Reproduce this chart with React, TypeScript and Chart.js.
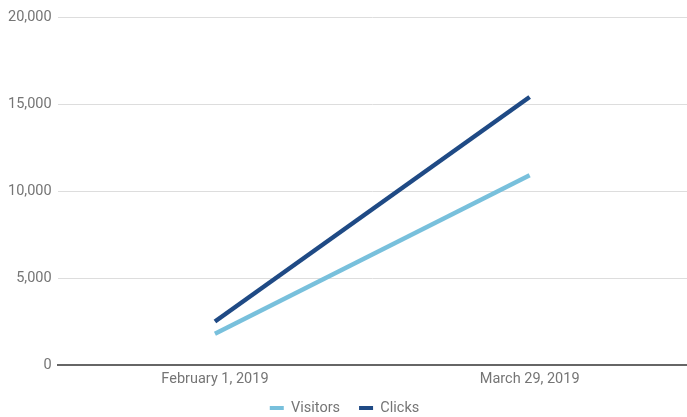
import React, { useEffect, useRef } from "react";
import { Chart, registerables } from "chart.js";

Chart.register(...registerables);

const categories = ["February 1, 2019", "March 29, 2019"];
const visitors = [1800, 10900];
const clicks = [2500, 15400];
const yTicks = [0, 5000, 10000, 15000, 20000];

const VISITORS_COLOR = "#78c0dc";
const CLICKS_COLOR = "#1f4a85";
const TEXT_COLOR = "#757575";
const FONT = { family: "Roboto", size: 14.5 };

export default function App() {
  const ref = useRef<HTMLCanvasElement | null>(null);

  useEffect(() => {
    document.body.style.margin = "0";
    if (!ref.current) return;
    const chart = new Chart(ref.current, {
      type: "line",
      data: {
        labels: categories,
        datasets: [
          {
            label: "Visitors",
            data: visitors,
            borderColor: VISITORS_COLOR,
            backgroundColor: VISITORS_COLOR,
            borderWidth: 4.5,
            pointRadius: 0,
            tension: 0,
          },
          {
            label: "Clicks",
            data: clicks,
            borderColor: CLICKS_COLOR,
            backgroundColor: CLICKS_COLOR,
            borderWidth: 4.5,
            pointRadius: 0,
            tension: 0,
          },
        ],
      },
      options: {
        animation: false,
        responsive: false,
        layout: { padding: { top: 17, right: 0, left: 2, bottom: -8.25 } },
        plugins: {
          tooltip: { enabled: false },
          legend: {
            position: "bottom",
            labels: {
              color: TEXT_COLOR,
              font: FONT,
              boxWidth: 14,
              boxHeight: 4,
              padding: 19,
              generateLabels: (c: any) =>
                c.data.datasets.map((ds: any, i: number) => ({
                  text: ds.label,
                  fillStyle: ds.borderColor,
                  strokeStyle: ds.borderColor,
                  lineWidth: 0,
                  hidden: false,
                  datasetIndex: i,
                  fontColor: TEXT_COLOR,
                })),
            },
          },
        },
        scales: {
          x: {
            offset: true,
            grid: { display: false, drawTicks: false },
            border: { display: true, color: "#666666", width: 2 },
            ticks: {
              color: TEXT_COLOR,
              font: FONT,
              mirror: true,
              padding: -23.4,
              maxRotation: 0,
            },
            afterFit: (s: any) => {
              s.height = 16.75;
            },
          },
          y: {
            min: 0,
            max: 20000,
            afterBuildTicks: (s: any) => {
              s.ticks = yTicks.map((v) => ({ value: v }));
            },
            border: { display: false },
            grid: {
              color: (ctx: any) =>
                ctx.tick && ctx.tick.value === 0 ? "rgba(0,0,0,0)" : "#dddddd",
              drawTicks: false,
              lineWidth: 1,
            },
            ticks: {
              color: TEXT_COLOR,
              font: FONT,
              padding: 6,
              callback: (v: any) => Number(v).toLocaleString("en-US"),
            },
          },
        },
      },
    });
    return () => chart.destroy();
  }, []);

  return (
    <div style={{ width: 687, height: 417 }}>
      <canvas ref={ref} width={687} height={417} style={{ display: "block" }} />
    </div>
  );
}
